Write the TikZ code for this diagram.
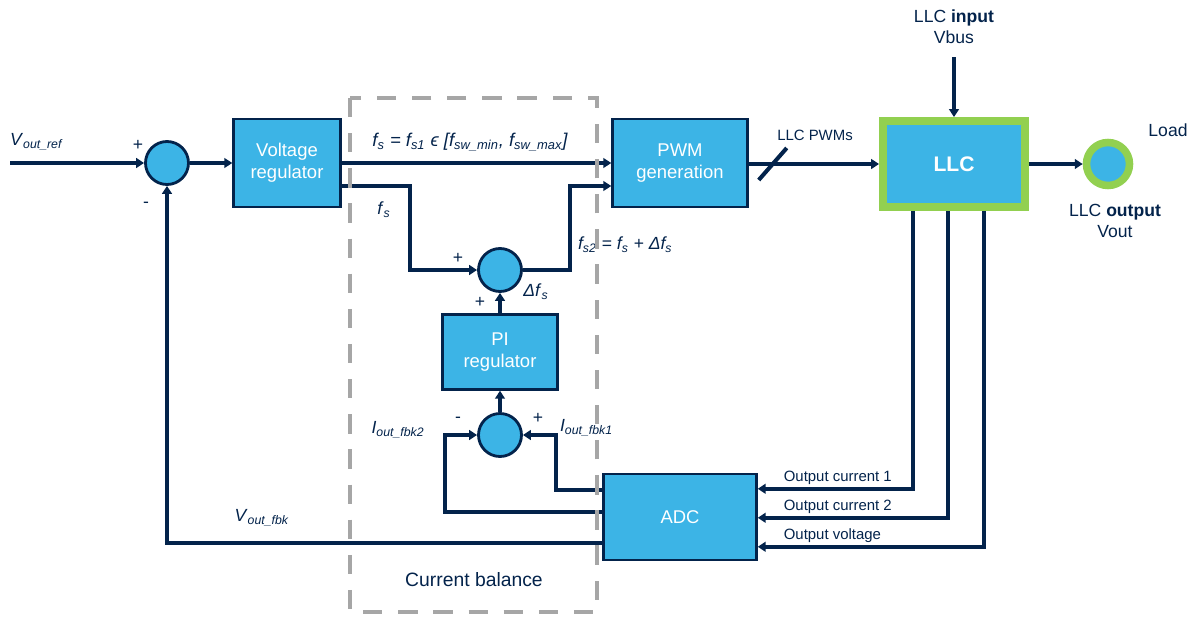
\documentclass[tikz,border=0pt]{standalone}
\usepackage{fontspec}
\setmainfont{Liberation Sans}
\usetikzlibrary{arrows.meta,calc}

\definecolor{stblue}{HTML}{3CB4E6}
\definecolor{navy}{HTML}{03234B}
\definecolor{llcgreen}{HTML}{92D050}
\definecolor{dashgray}{HTML}{A6A6A6}

\newcommand{\sgl}[2]{\textit{#1}\textsubscript{\textit{#2}}}

\tikzset{
  blk/.style={draw=navy, line width=1.4pt, fill=stblue, text=white, align=center,
    font=\fontsize{10.5}{12.5}\selectfont, inner sep=0pt},
  sumc/.style={circle, draw=navy, line width=1.6pt, fill=stblue, minimum size=0.86cm, inner sep=0pt},
  arr/.style={navy, line width=2.3pt, -{Triangle[length=4.5pt,width=5.5pt]}},
  wire/.style={navy, line width=2.3pt},
  lbl/.style={text=navy, font=\fontsize{10}{12}\selectfont, inner sep=1pt},
  small/.style={text=navy, font=\fontsize{8.5}{10}\selectfont, inner sep=1pt},
}

\begin{document}
\begin{tikzpicture}[x=0.02cm, y=-0.02cm]
\useasboundingbox (0,0) rectangle (1204,619);

% blocks
\node[sumc] (s1) at (167,163) {};
\node[blk, minimum width=2.14cm, minimum height=1.76cm] (vreg) at (287,163) {Voltage\\regulator};
\node[blk, minimum width=2.7cm, minimum height=1.76cm] (pwm) at (680,163) {PWM\\generation};
\node[sumc] (s2) at (500,270) {};
\node[blk, minimum width=2.3cm, minimum height=1.5cm] (pi) at (500,352) {PI\\regulator};
\node[sumc] (s3) at (500,435) {};
\node[blk, minimum width=3.06cm, minimum height=1.72cm] (adc) at (680,517) {ADC};

\node[draw=llcgreen, line width=4.5pt, fill=stblue, text=white, minimum width=2.84cm,
  minimum height=1.72cm, font=\fontsize{12}{14}\selectfont\bfseries] (llc) at (954,164) {LLC};
\node[circle, draw=llcgreen, line width=4.3pt, fill=stblue, minimum size=0.86cm] (load) at (1108,164) {};

\coordinate (vref) at (10,163);
\coordinate (vin) at (954,57);

% forward path
\draw[arr] (vref) -- (s1);
\draw[arr] (s1) -- (vreg);
\draw[arr] (vreg) -- (pwm);
\draw[arr] ($(vreg.east)+(0,23)$) -- ++(68,0) |- (s2);
\draw[arr] (s2) -- ++(70,0) |- ($(pwm.west)+(0,23)$);
\draw[arr] (pi) -- (s2);
\draw[arr] (s3) -- (pi);
\draw[arr] (pwm.east |- llc) -- (llc);
\draw[wire] ($(pwm.east)+(10,17)$) -- ++(28,-32);
\draw[arr] (vin) -- (llc);
\draw[arr] (llc) -- (load);

% feedback
\draw[arr] ($(llc.south west)+(34,0)$) |- ($(adc.north east)+(0,16)$);
\draw[arr] ($(llc.south west)+(69,0)$) |- ($(adc.north east)+(0,45)$);
\draw[arr] ($(llc.south west)+(105,0)$) |- ($(adc.north east)+(0,74)$);
\draw[arr] ($(adc.north west)+(0,17)$) -- ++(-46,0) |- (s3);
\draw[arr] ($(adc.north west)+(0,39)$) -- ++(-157,0) |- (s3);
\draw[arr] ($(adc.south west)+(0,-18)$) -| (s1);

% labels
\node[lbl, anchor=west] (lref) at (8,142) {\sgl{V}{out\_ref}};
\node[lbl] (p1) at (138,145) {+};
\node[lbl] (m1) at (146,205) {-};
\node[lbl, font=\fontsize{10.5}{12}\selectfont] (lfs1) at (470,142) {\itshape \sgl{f}{s} = \sgl{f}{s1} ϵ [\sgl{f}{sw\_min}, \sgl{f}{sw\_max}]};
\node[lbl] (lfs) at (384,210) {\sgl{f}{s}};
\node[lbl] (p2) at (458,258) {+};
\node[lbl] (p3) at (480,302) {+};
\node[lbl] (ldf) at (536,292) {\sgl{Δf}{s}};
\node[lbl, anchor=west] (lfs2) at (576,245) {\itshape \sgl{f}{s2} = \sgl{f}{s} + \sgl{Δf}{s}};
\node[lbl] (lfb2) at (398,430) {\sgl{I}{out\_fbk2}};
\node[lbl] (m3) at (458,420) {-};
\node[lbl] (p4) at (538,418) {+};
\node[lbl, anchor=west] (lfb1) at (558,428) {\sgl{I}{out\_fbk1}};
\node[lbl] (lvfb) at (262,518) {\sgl{V}{out\_fbk}};
\node[small] (lpwm) at (815,135) {LLC PWMs};
\node[small, anchor=south west] (loc1) at ($(adc.north east)+(24,14)$) {Output current 1};
\node[small, anchor=south west] (loc2) at ($(adc.north east)+(24,43)$) {Output current 2};
\node[small, anchor=south west] (lov) at ($(adc.north east)+(24,72)$) {Output voltage};
\node[lbl, align=center] (lin) at (954,27) {LLC \textbf{input}\\Vbus};
\node[lbl] (lload) at (1168,130) {Load};
\node[lbl, align=center] (lout) at (1115,221) {LLC \textbf{output}\\Vout};

% current balance
\draw[dashgray, line width=2.6pt, dash pattern=on 11pt off 9pt] (350,98) rectangle (597,612);
\node[lbl, font=\fontsize{11}{13}\selectfont] (lcb) at (474,580) {Current balance};

\end{tikzpicture}
\end{document}
